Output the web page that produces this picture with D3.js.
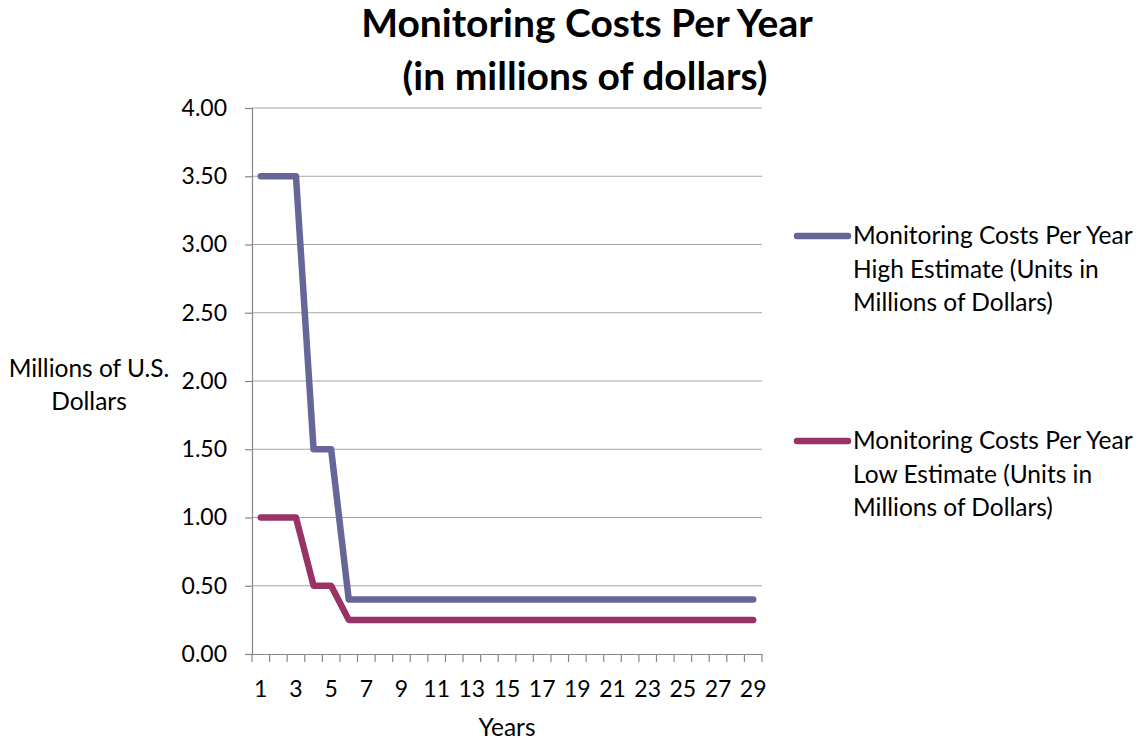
<!DOCTYPE html>
<html><head><meta charset="utf-8">
<script src="https://cdn.jsdelivr.net/npm/d3@7"></script>
<style>body{margin:0;background:#fff}svg{display:block}text{font-family:Lato,"Open Sans",sans-serif;fill:#000}</style>
</head><body><svg id="c" width="1141" height="740"></svg>
<script>
const years = d3.range(1, 30);
const highEstimate = [3.5,3.5,3.5,1.5,1.5,0.4,0.4,0.4,0.4,0.4,0.4,0.4,0.4,0.4,0.4,0.4,0.4,0.4,0.4,0.4,0.4,0.4,0.4,0.4,0.4,0.4,0.4,0.4,0.4];
const lowEstimate  = [1.0,1.0,1.0,0.5,0.5,0.25,0.25,0.25,0.25,0.25,0.25,0.25,0.25,0.25,0.25,0.25,0.25,0.25,0.25,0.25,0.25,0.25,0.25,0.25,0.25,0.25,0.25,0.25,0.25];
const yTicks = [0,0.5,1,1.5,2,2.5,3,3.5,4];
const legendLines = [["Monitoring Costs Per Year","High Estimate (Units in","Millions of Dollars)"],["Monitoring Costs Per Year","Low Estimate (Units in","Millions of Dollars)"]];
const colors = ["#666699","#993366"];

const svg = d3.select("#c");
const L = 252, R = 762, T = 108, B = 654;
const x = d3.scaleBand().domain(years).range([L, R]);
const y = d3.scaleLinear().domain([0, 4]).range([B, T]);

// gridlines
svg.append("g").selectAll("line").data(yTicks.filter(d=>d>0)).join("line")
  .attr("x1", L).attr("x2", R).attr("y1", d=>y(d)).attr("y2", d=>y(d))
  .attr("stroke", "#a6a6a6").attr("stroke-width", 1.2);

// y axis
const ya = svg.append("g").attr("transform", `translate(${L},0)`)
  .call(d3.axisLeft(y).tickValues(yTicks).tickFormat(d3.format(".2f")).tickSize(7).tickPadding(18));
ya.select(".domain").attr("stroke", "#868686").attr("stroke-width", 1.2);
ya.selectAll(".tick line").attr("stroke", "#868686").attr("stroke-width", 1.2);
ya.selectAll(".tick text").style("font-size", "23px").style("font-family", "Lato,'Open Sans',sans-serif").attr("fill", "#000");

// x axis
const xa = svg.append("g").attr("transform", `translate(0,${B})`)
  .call(d3.axisBottom(x).tickSize(0).tickPadding(27).tickFormat(d => d % 2 === 1 ? d : ""));
xa.select(".domain").attr("stroke", "#868686").attr("stroke-width", 1.2);
xa.selectAll(".tick text").style("font-size", "23px").style("font-family", "Lato,'Open Sans',sans-serif").attr("fill", "#000");
svg.append("g").selectAll("line").data(years.concat([30])).join("line")
  .attr("x1", d => L + (d-1)*x.step()).attr("x2", d => L + (d-1)*x.step())
  .attr("y1", B).attr("y2", B + 8).attr("stroke", "#868686").attr("stroke-width", 1.2);

// lines
const line = d3.line().x((d,i) => x(years[i]) + x.bandwidth()/2).y(d => y(d));
[highEstimate, lowEstimate].forEach((s, k) => {
  svg.append("path").datum(s).attr("d", line).attr("fill", "none")
    .attr("stroke", colors[k]).attr("stroke-width", 6.5)
    .attr("stroke-linejoin", "round").attr("stroke-linecap", "round");
});

// title
const title = svg.append("text").attr("text-anchor", "middle").style("font-size", "39px").style("font-weight", "bold");
title.append("tspan").attr("x", 587).attr("y", 37).text("Monitoring Costs Per Year");
title.append("tspan").attr("x", 585).attr("y", 90).text("(in millions of dollars)");

// axis titles
const yt = svg.append("text").attr("text-anchor", "middle").style("font-size", "24.5px");
yt.append("tspan").attr("x", 89).attr("y", 377).text("Millions of U.S.");
yt.append("tspan").attr("x", 89).attr("y", 410).text("Dollars");
svg.append("text").attr("x", 507).attr("y", 736).attr("text-anchor", "middle").style("font-size", "24.5px").text("Years");

// legend
const legY = [236, 441];
legendLines.forEach((lines, k) => {
  svg.append("line").attr("x1", 797).attr("x2", 848).attr("y1", legY[k]).attr("y2", legY[k])
    .attr("stroke", colors[k]).attr("stroke-width", 6.5).attr("stroke-linecap", "round");
  const t = svg.append("text").style("font-size", "24.5px");
  lines.forEach((ln, j) => t.append("tspan").attr("x", 853).attr("y", legY[k] + 8 + j*33.5).text(ln));
});
</script></body></html>
